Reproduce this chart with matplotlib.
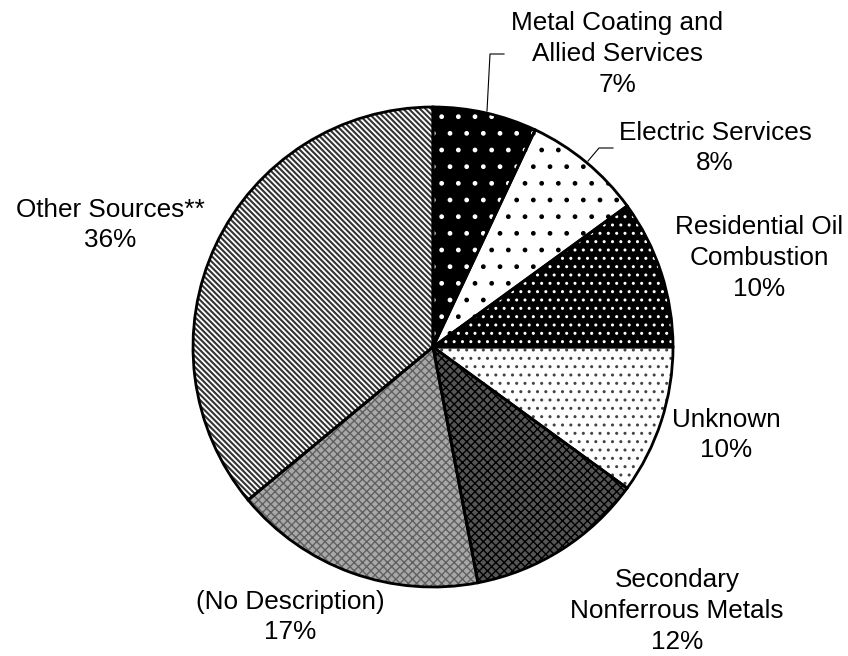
import numpy as np
import matplotlib
matplotlib.use("Agg")
import matplotlib.pyplot as plt

plt.rcParams['font.family'] = ['Liberation Sans', 'DejaVu Sans']
plt.rcParams['hatch.linewidth'] = 1.0

labels = ["Metal Coating and\nAllied Services", "Electric Services",
          "Residential Oil\nCombustion", "Unknown",
          "Secondary\nNonferrous Metals", "(No Description)",
          "Other Sources**"]
shares = [7, 8, 10, 10, 12, 17, 36]

# fill / hatch / hatch colour / hatch width per wedge
faces = ["black", "white", "black", "white", "#555555", "#a8a8a8", "white"]
hatches = [".", ".", "..", "..", "xxxx", "xxxx", "\\" * 6]
hcols = ["white", "black", "white", "#444444", "black", "#606060", "#333333"]
hwidths = [1.0, 1.0, 1.0, 1.0, 1.0, 1.0, 1.5]

W, H = 848, 656
cx, cy, R = 433, 347, 240   # pie centre and radius in pixels


def px(x, y):
    return (x - cx) / R, (cy - y) / R


fig = plt.figure(figsize=(W / 100, H / 100), dpi=100)
ax = fig.add_axes([0, 0, 1, 1])

wedges, _ = ax.pie(shares, startangle=90, counterclock=False, radius=1,
                   wedgeprops=dict(linewidth=0))
for w, fc, h, hc, hw in zip(wedges, faces, hatches, hcols, hwidths):
    w.set_facecolor(fc)
    w.set_hatch(h)
    w.set_edgecolor(hc)
    if hasattr(w, "set_hatch_linewidth"):
        w.set_hatch_linewidth(hw)

# outlines on top
ax.pie(shares, startangle=90, counterclock=False, radius=1,
       wedgeprops=dict(fill=False, edgecolor='black', linewidth=2))

ax.set_xlim(-cx / R, (W - cx) / R)
ax.set_ylim(-(H - cy) / R, cy / R)
ax.set_aspect('equal')
ax.axis('off')

# label block centres (pixels)
pos = [(617, 54), (715, 148), (759, 258), (726, 435),
       (677, 611), (290, 617), (110, 225)]
for lab, s, (x, y) in zip(labels, shares, pos):
    tx, ty = px(x, y)
    ax.text(tx, ty, f"{lab}\n{s}%", ha='center', va='center',
            fontsize=18.8, linespacing=1.35)

# leader lines
for pts in ([(487, 111), (490, 54), (504, 54)],
            [(588, 161), (599, 148), (613, 148)]):
    xs, ys = zip(*[px(a, b) for a, b in pts])
    ax.plot(xs, ys, color='black', lw=0.8)

fig.savefig("out.png", dpi=100)
